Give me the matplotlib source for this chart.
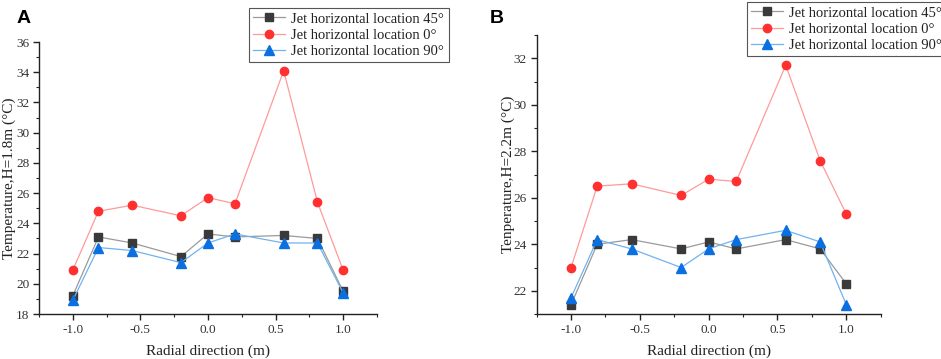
import matplotlib
matplotlib.use("Agg")
import matplotlib.pyplot as plt
from matplotlib.ticker import MultipleLocator

plt.rcParams['font.family'] = ['Liberation Serif', 'DejaVu Serif']

x = [-1.0, -0.81, -0.56, -0.2, 0.0, 0.2, 0.56, 0.81, 1.0]

a_45 = [19.2, 23.1, 22.7, 21.8, 23.3, 23.1, 23.2, 23.0, 19.5]
a_0 = [20.9, 24.8, 25.2, 24.5, 25.7, 25.3, 34.1, 25.4, 20.9]
a_90 = [18.9, 22.4, 22.2, 21.4, 22.7, 23.3, 22.7, 22.7, 19.4]

b_45 = [21.4, 24.0, 24.2, 23.8, 24.1, 23.8, 24.2, 23.8, 22.3]
b_0 = [23.0, 26.5, 26.6, 26.1, 26.8, 26.7, 31.7, 27.6, 25.3]
b_90 = [21.7, 24.2, 23.8, 23.0, 23.8, 24.2, 24.6, 24.1, 21.4]

labels = ["Jet horizontal location 45\u00b0",
          "Jet horizontal location 0\u00b0",
          "Jet horizontal location 90\u00b0"]
xticks = [-1.0, -0.5, 0.0, 0.5, 1.0]

fig = plt.figure(figsize=(9.41, 3.59), dpi=100)
axA = fig.add_axes([0.0414, 0.1253, 0.3592, 0.7577])
axB = fig.add_axes([0.5703, 0.1253, 0.3656, 0.7772])

styles = [
    dict(color='#9a9a9a', marker='s', ms=5.5, mfc='#3a3a3a', mec='#3a3a3a'),
    dict(color='#ff9a9a', marker='o', ms=6, mfc='#ff3030', mec='#ff3030'),
    dict(color='#6fb3f0', marker='^', ms=6.5, mfc='#0a6fe0', mec='#0a6fe0'),
]

def draw(ax, series, ylim, ylabel, ylab_x, leg_anchor):
    handles = []
    for ys, st, lab in zip(series, styles, labels):
        h, = ax.plot(x, ys, lw=0.9, label=lab, **st)
        handles.append(h)
    ax.set_xlim(-1.25, 1.25)
    ax.set_ylim(*ylim)
    ax.set_xticks(xticks)
    ax.set_xticklabels([f"{t:.1f}" for t in xticks])
    ax.xaxis.set_minor_locator(MultipleLocator(0.25))
    ax.yaxis.set_major_locator(MultipleLocator(2))
    ax.yaxis.set_minor_locator(MultipleLocator(1))
    ax.spines['top'].set_visible(False)
    ax.spines['right'].set_visible(False)
    for s in ('left', 'bottom'):
        ax.spines[s].set_linewidth(1.0)
        ax.spines[s].set_color('#222222')
    ax.tick_params(which='major', direction='out', length=4, width=1.0,
                   labelsize=9.5, colors='#222222', labelcolor='#333333', pad=3)
    ax.tick_params(which='minor', direction='out', length=2.5, width=0.8,
                   colors='#222222')
    ax.set_xlabel("Radial direction (m)", fontsize=11, color='#222222', labelpad=6)
    ax.set_ylabel(ylabel, fontsize=11, color='#222222')
    ax.yaxis.set_label_coords(ylab_x, 0.5)
    leg = fig.legend(handles=handles, loc='upper left', bbox_to_anchor=leg_anchor,
                     fontsize=10.5, frameon=True, fancybox=False, framealpha=1,
                     edgecolor='#555555', borderpad=0.3, labelspacing=0.2,
                     handlelength=2.2, handletextpad=0.4, borderaxespad=0)
    leg.get_frame().set_linewidth(0.8)
    for t in leg.get_texts():
        t.set_color('#222222')
    return leg

draw(axA, [a_45, a_0, a_90], (18, 36), "Temperature,H=1.8m (\u00b0C)", -0.069,
     (249 / 941, 1 - 8 / 359))
draw(axB, [b_45, b_0, b_90], (21, 33), "Tenperature,H=2.2m (\u00b0C)", -0.062,
     (747 / 941, 1 - 2 / 359))

fig.text(17 / 941, 1 - 23 / 359, 'A', fontsize=14, fontweight='bold',
         family=['Liberation Sans', 'DejaVu Sans'])
fig.text(490 / 941, 1 - 23 / 359, 'B', fontsize=14, fontweight='bold',
         family=['Liberation Sans', 'DejaVu Sans'])

fig.savefig('out.png', dpi=100)
